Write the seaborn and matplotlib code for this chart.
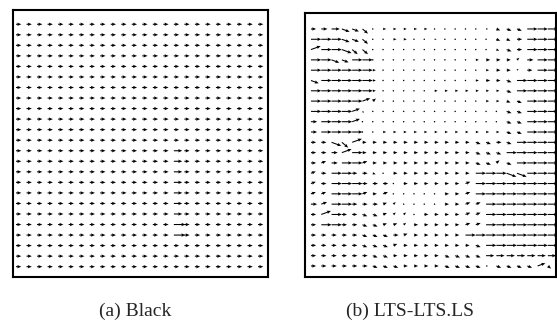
import numpy as np
import matplotlib
matplotlib.use("Agg")
import matplotlib.pyplot as plt
import seaborn as sns

sns.set_theme(style="white")
plt.rcParams['font.family'] = ['Liberation Serif', 'DejaVu Serif']

# vector field: 24 x 24 grid, row 0 at the top
# magnitude codes: hex digit / 10 of a grid step ('0' = dot)
# direction codes: '-' flat, 'u'/'U' up a little/more, 'd'/'D' down a little/more
ANGLE = {'-': 0, 'u': 20, 'U': 40, 'd': -20, 'D': -40}

black_mag = [
    "555555555555555555555555",
    "555555555555555555555555",
    "555555555555555555555555",
    "555555555555555555555555",
    "555555555555555555555555",
    "555555555555555555555555",
    "555555555555555555555555",
    "555555555555555555555555",
    "555555555555555555555555",
    "555555555555555555555555",
    "555555555555555555555555",
    "555555555555555555555555",
    "555555555555555855555555",
    "555555555555555855555555",
    "555555555555555855555555",
    "555555555555555855555555",
    "555555555555555855555555",
    "555555555555555855555555",
    "555555555555555855555555",
    "555555555555555b55555555",
    "555555555555555b55555555",
    "555555555555555555555555",
    "555555555555555555555555",
    "555555555555555555555555",
]
black_dir = ["------------------------"] * 24

lts_mag = [
    "568877" "0" "3333" "3" "11111" "2" "455" "aaa",
    "aaa877" "00" "33" "00" "2" "11111" "44" "5" "aaa",
    "aaaa77" "000000000000" "355" "aaa",
    "aa87aa" "0000000000" "3444" "3" "6" "aa",
    "aaaaaa" "3" "0000000000" "344" "2" "5" "aa",
    "8aaaaa" "3" "000000000" "344" "5" "aaaa",
    "aaaaaa" "3" "00000" "3333333" "5" "aaaa",
    "aaaaa8" "4" "0000000000" "334" "5" "aaa",
    "aaaa8" "2" "0000000000000" "55" "aaa",
    "6aaa8" "1" "0000000000000" "55" "aaa",
    "6aaaa" "11" "333333333333" "55" "aaa",
    "55a8a" "44444444444" "5555" "aaaa",
    "556aa" "44444444444" "555" "aaaaa",
    "556aa" "5" "4444444444" "554" "5" "aaaa",
    "55aa55" "3" "1" "44444444" "aaaaaaaa",
    "55aaa555" "1" "444444" "5" "aaaaaaaa",
    "55aaa545" "11111" "44" "5" "aaaaaaaa",
    "66aa5554" "3" "1111" "44" "55" "aaaaaaa",
    "5aa55554" "33" "1" "4444" "55" "aaaaaaa",
    "5aa55554" "43" "44444" "55" "aaaaaaa",
    "555555555" "4" "44444" "aaaaaaaaa",
    "55555555" "4" "4444444" "5" "aaaaaaa",
    "555555" "55" "44444" "5555" "8888888",
    "555555" "555" "4444" "5555" "2" "5555" "8" "4",
]
lts_dir = [
    "---ddD" "-" "----" "-" "-----" "-" "ddd" "---",
    "---ddD" "--" "--" "--" "-" "-----" "dd" "-" "---",
    "u--dDD" "------------" "dd-" "---",
    "--dd--" "----------" "----" "U" "-" "--",
    "------" "-" "----------" "---" "U" "-" "--",
    "d-----" "-" "---------" "---" "d" "----",
    "------" "-" "-----" "-------" "d" "----",
    "-----u" "U" "----------" "--d" "d" "---",
    "----u" "D" "-------------" "dd" "---",
    "----u" "-" "-------------" "dd" "---",
    "-----" "--" "------------" "dd" "---",
    "--dDu" "-----------" "dd-d" "----",
    "---u-" "-----------" "ddd" "-----",
    "-u---" "u" "----------" "ddU" "d" "----",
    "u-----" "d" "-" "--------" "---dd---",
    "u-------" "-" "------" "u" "--------",
    "uu---u-u" "-----" "--" "u" "--------",
    "-u-----u" "U" "----" "--" "uu" "-------",
    "-u---ddu" "UU" "-" "----" "uu" "-------",
    "-----ddu" "uU" "-----" "uu" "-------",
    "-----ddd-" "u" "-----" "---------",
    "-----ddd" "u" "-------" "d" "-------",
    "------" "dd" "-----" "dddd" "-------",
    "------" "ddd" "----" "dddd" "-" "dddd" "u" "D",
]

panel_labels = ["(a) Black", "(b) LTS-LTS.LS"]


def field(mag_rows, dir_rows):
    L = np.array([[max(int(c, 16) / 10, 0.15) for c in r] for r in mag_rows])
    A = np.deg2rad([[ANGLE[c] for c in r] for r in dir_rows])
    return L * np.cos(A), L * np.sin(A)


W, H = 557, 324
fig = plt.figure(figsize=(W / 100, H / 100), dpi=100)

# axes boxes in pixels: left, top, right, bottom
boxes = [(13.3, 9.5, 268, 276.7), (305, 13.3, 556, 276.7)]
limits = [((0.74, 24.95), (0.05, 25.4)), ((0.42, 24.79), (-0.04, 25.52))]
fields = [field(black_mag, black_dir), field(lts_mag, lts_dir)]

cols = np.arange(1, 25)
rows = np.arange(24, 0, -1)
X, Y = np.meshgrid(cols, rows)

for (l, t, r, b), (xl, yl), (U, V) in zip(boxes, limits, fields):
    ax = fig.add_axes([l / W, 1 - b / H, (r - l) / W, (b - t) / H])
    ax.quiver(X, Y, U, V, angles='xy', scale_units='xy', scale=1,
              pivot='tail', color='black', width=0.0042, minlength=1.5,
              headwidth=3.2, headlength=3.8, headaxislength=3.3)
    ax.set_xlim(*xl)
    ax.set_ylim(*yl)
    ax.set_xticks([])
    ax.set_yticks([])
    for s in ax.spines.values():
        s.set_color('black')
        s.set_linewidth(1.5)

fig.text(135 / W, 1 - 311 / H, panel_labels[0], ha='center', va='center', fontsize=14)
fig.text(410 / W, 1 - 311 / H, panel_labels[1], ha='center', va='center', fontsize=14)

fig.savefig("out.png", dpi=100)
